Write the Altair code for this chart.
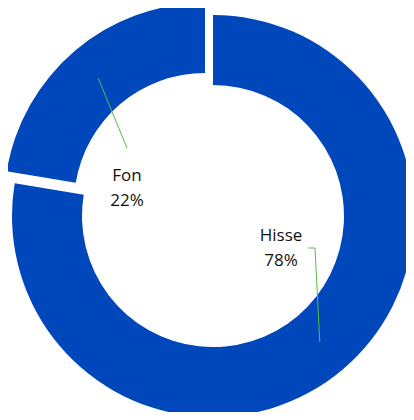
import altair as alt
import pandas as pd

# data
categories = ["Hisse", "Fon"]
values = [77.6, 22.4]
pct_text = ["78%", "22%"]

# styling / layout
BLUE = "#0047BB"
GREEN = "#5DB84A"
CX, CY = 205, 208
R_OUT, R_IN = 201, 131
R_LEADER = 165
EXPLODE = {"Hisse": (0, 0), "Fon": (-8, -12)}
LABEL_AT = {"Hisse": (68, 20), "Fon": (-86, -40)}
LEADER_IN = {"Hisse": (102, 32), "Fon": (-86, -68)}
HOOK = {"Hisse": 7, "Fon": 0}

df = pd.DataFrame({
    "category": categories,
    "value": values,
    "pct": pct_text,
    "order": list(range(len(categories))),
})

base = (
    alt.Chart(df)
    .transform_joinaggregate(total="sum(value)")
    .transform_window(cum="sum(value)", sort=[alt.SortField("order")], frame=[None, 0])
    .transform_calculate(
        t1="2*PI*datum.cum/datum.total",
        t0="2*PI*(datum.cum-datum.value)/datum.total",
        mid="PI*(2*datum.cum-datum.value)/datum.total",
        label="datum.category + '\\n' + datum.pct",
    )
)

layers = []
for cat in categories:
    ex, ey = EXPLODE[cat]
    sub = base.transform_filter(alt.datum.category == cat)
    arc = sub.mark_arc(radius=R_OUT, innerRadius=R_IN, color=BLUE).encode(
        theta=alt.Theta("t0:Q", scale=None),
        theta2="t1:Q",
        x=alt.value(CX + ex),
        y=alt.value(CY + ey),
    )
    layers.append(arc)

for cat in categories:
    ex, ey = EXPLODE[cat]
    lx, ly = LABEL_AT[cat]
    ix, iy = LEADER_IN[cat]
    sub = base.transform_filter(alt.datum.category == cat)
    lead = sub.transform_calculate(
        ox=f"{CX + ex} + {R_LEADER}*sin(datum.mid)",
        oy=f"{CY + ey} - {R_LEADER}*cos(datum.mid)",
        ix=f"{CX + ix}",
        iy=f"{CY + iy}",
    ).mark_rule(color=GREEN, strokeWidth=1).encode(
        x=alt.X("ox:Q", scale=None, axis=None),
        y=alt.Y("oy:Q", scale=None, axis=None),
        x2="ix:Q",
        y2="iy:Q",
    )
    layers.append(lead)
    if HOOK[cat]:
        hook = sub.transform_calculate(
            ix=f"{CX + ix}",
            iy=f"{CY + iy}",
            hx=f"{CX + ix - HOOK[cat]}",
        ).mark_rule(color=GREEN, strokeWidth=1).encode(
            x=alt.X("ix:Q", scale=None, axis=None),
            y=alt.Y("iy:Q", scale=None, axis=None),
            x2="hx:Q",
            y2="iy:Q",
        )
        layers.append(hook)
    txt = sub.mark_text(
        font="Open Sans", fontSize=17, lineBreak="\n", lineHeight=25,
        color="#111111", align="center", baseline="middle",
    ).encode(
        text="label:N",
        x=alt.value(CX + lx),
        y=alt.value(CY + ly),
    )
    layers.append(txt)

chart = (
    alt.layer(*layers)
    .properties(width=398, height=404, autosize=alt.AutoSizeParams(type="none"), padding=0)
    .configure_view(stroke=None)
)

chart.save("out.html", embed_options={"renderer": "svg", "actions": False})
